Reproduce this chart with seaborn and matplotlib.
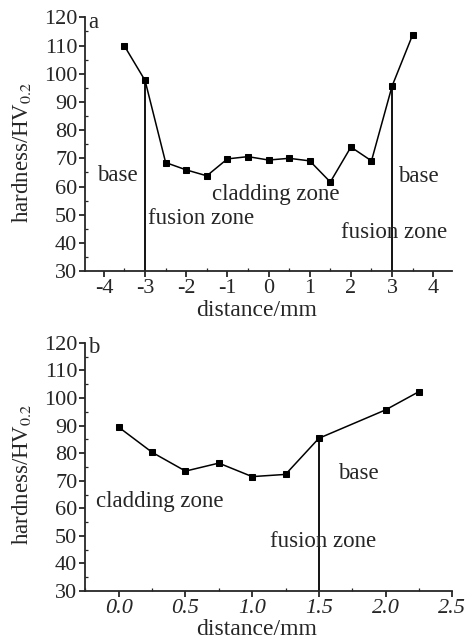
import matplotlib
matplotlib.use("Agg")
import matplotlib.pyplot as plt
from matplotlib.ticker import MultipleLocator
import seaborn as sns
import pandas as pd

# Panel a data
dist_a = [-3.5, -3.0, -2.5, -2.0, -1.5, -1.0, -0.5, 0.0, 0.5, 1.0, 1.5, 2.0, 2.5, 3.0, 3.5]
hard_a = [109.8, 97.6, 68.5, 65.9, 63.8, 69.8, 70.6, 69.4, 70.0, 69.1, 61.6, 74.0, 69.1, 95.6, 113.8]
fusion_a = [-3.0, 3.0]

# Panel b data
dist_b = [0.0, 0.25, 0.5, 0.75, 1.0, 1.25, 1.5, 2.0, 2.25]
hard_b = [89.4, 80.3, 73.5, 76.4, 71.5, 72.3, 85.4, 95.7, 102.3]
fusion_b = [1.5]

xticks_a = [-4, -3, -2, -1, 0, 1, 2, 3, 4]
xticks_b = [0.0, 0.5, 1.0, 1.5, 2.0, 2.5]
yticks = [30, 40, 50, 60, 70, 80, 90, 100, 110, 120]

sns.set_style("ticks")
plt.rcParams['font.family'] = ['Liberation Serif', 'DejaVu Serif']
plt.rcParams['mathtext.fontset'] = 'stix'

FS_TICK = 16
FS_TXT = 16.5
FS_LAB = 16.5

fig = plt.figure(figsize=(4.72, 6.41), dpi=100)
ax1 = fig.add_axes([0.180, 0.577, 0.778, 0.396])
ax2 = fig.add_axes([0.180, 0.078, 0.778, 0.387])

df_a = pd.DataFrame({"distance": dist_a, "hardness": hard_a})
df_b = pd.DataFrame({"distance": dist_b, "hardness": hard_b})

for ax, df, fz in [(ax1, df_a, fusion_a), (ax2, df_b, fusion_b)]:
    sns.lineplot(data=df, x="distance", y="hardness", ax=ax, color="black",
                 marker="s", markersize=4.5, linewidth=1.1, markeredgecolor="black")
    for xv in fz:
        yv = df.loc[df["distance"] == xv, "hardness"].iloc[0]
        ax.plot([xv, xv], [30, yv], color="black", linewidth=1.3)
    ax.set_ylim(30, 120)
    ax.set_yticks(yticks)
    ax.yaxis.set_minor_locator(MultipleLocator(5))
    ax.set_ylabel("hardness/HV$_{0.2}$", fontsize=FS_LAB)
    ax.set_xlabel("distance/mm", fontsize=FS_LAB + 0.5)
    ax.yaxis.set_label_coords(-0.142, 0.47)
    ax.xaxis.set_label_coords(0.466, -0.112)
    for s in ["top", "right"]:
        ax.spines[s].set_visible(False)
    for s in ["left", "bottom"]:
        ax.spines[s].set_linewidth(1.3)
    ax.tick_params(axis="both", which="major", labelsize=FS_TICK, length=4, width=1.1,
                   direction="out", pad=1.5, color="black")
    ax.tick_params(axis="both", which="minor", length=2.5, width=0.9, direction="in")

ax1.set_xlim(-4.46, 4.46)
ax1.set_xticks(xticks_a)
ax1.set_xticklabels([str(v) for v in xticks_a])
ax1.xaxis.set_minor_locator(MultipleLocator(0.5))
ax1.text(0.008, 0.98, "a", transform=ax1.transAxes, fontsize=FS_TXT, va="center", ha="left")
ax1.text(-3.68, 63.8, "base", fontsize=FS_TXT, ha="center", va="center")
ax1.text(-2.93, 48.5, "fusion zone", fontsize=FS_TXT, ha="left", va="center")
ax1.text(0.17, 57.0, "cladding zone", fontsize=FS_TXT, ha="center", va="center")
ax1.text(3.65, 63.5, "base", fontsize=FS_TXT, ha="center", va="center")
ax1.text(3.04, 43.8, "fusion zone", fontsize=FS_TXT, ha="center", va="center")

ax2.set_xlim(-0.254, 2.5)
ax2.set_xticks(xticks_b)
ax2.set_xticklabels([f"{v:.1f}" for v in xticks_b], fontstyle="italic")
ax2.xaxis.set_minor_locator(MultipleLocator(0.25))
ax2.text(0.008, 0.98, "b", transform=ax2.transAxes, fontsize=FS_TXT, va="center", ha="left")
ax2.text(0.31, 62.3, "cladding zone", fontsize=FS_TXT, ha="center", va="center")
ax2.text(1.80, 72.5, "base", fontsize=FS_TXT, ha="center", va="center")
ax2.text(1.53, 48.0, "fusion zone", fontsize=FS_TXT, ha="center", va="center")

fig.savefig("out.png", dpi=100)
